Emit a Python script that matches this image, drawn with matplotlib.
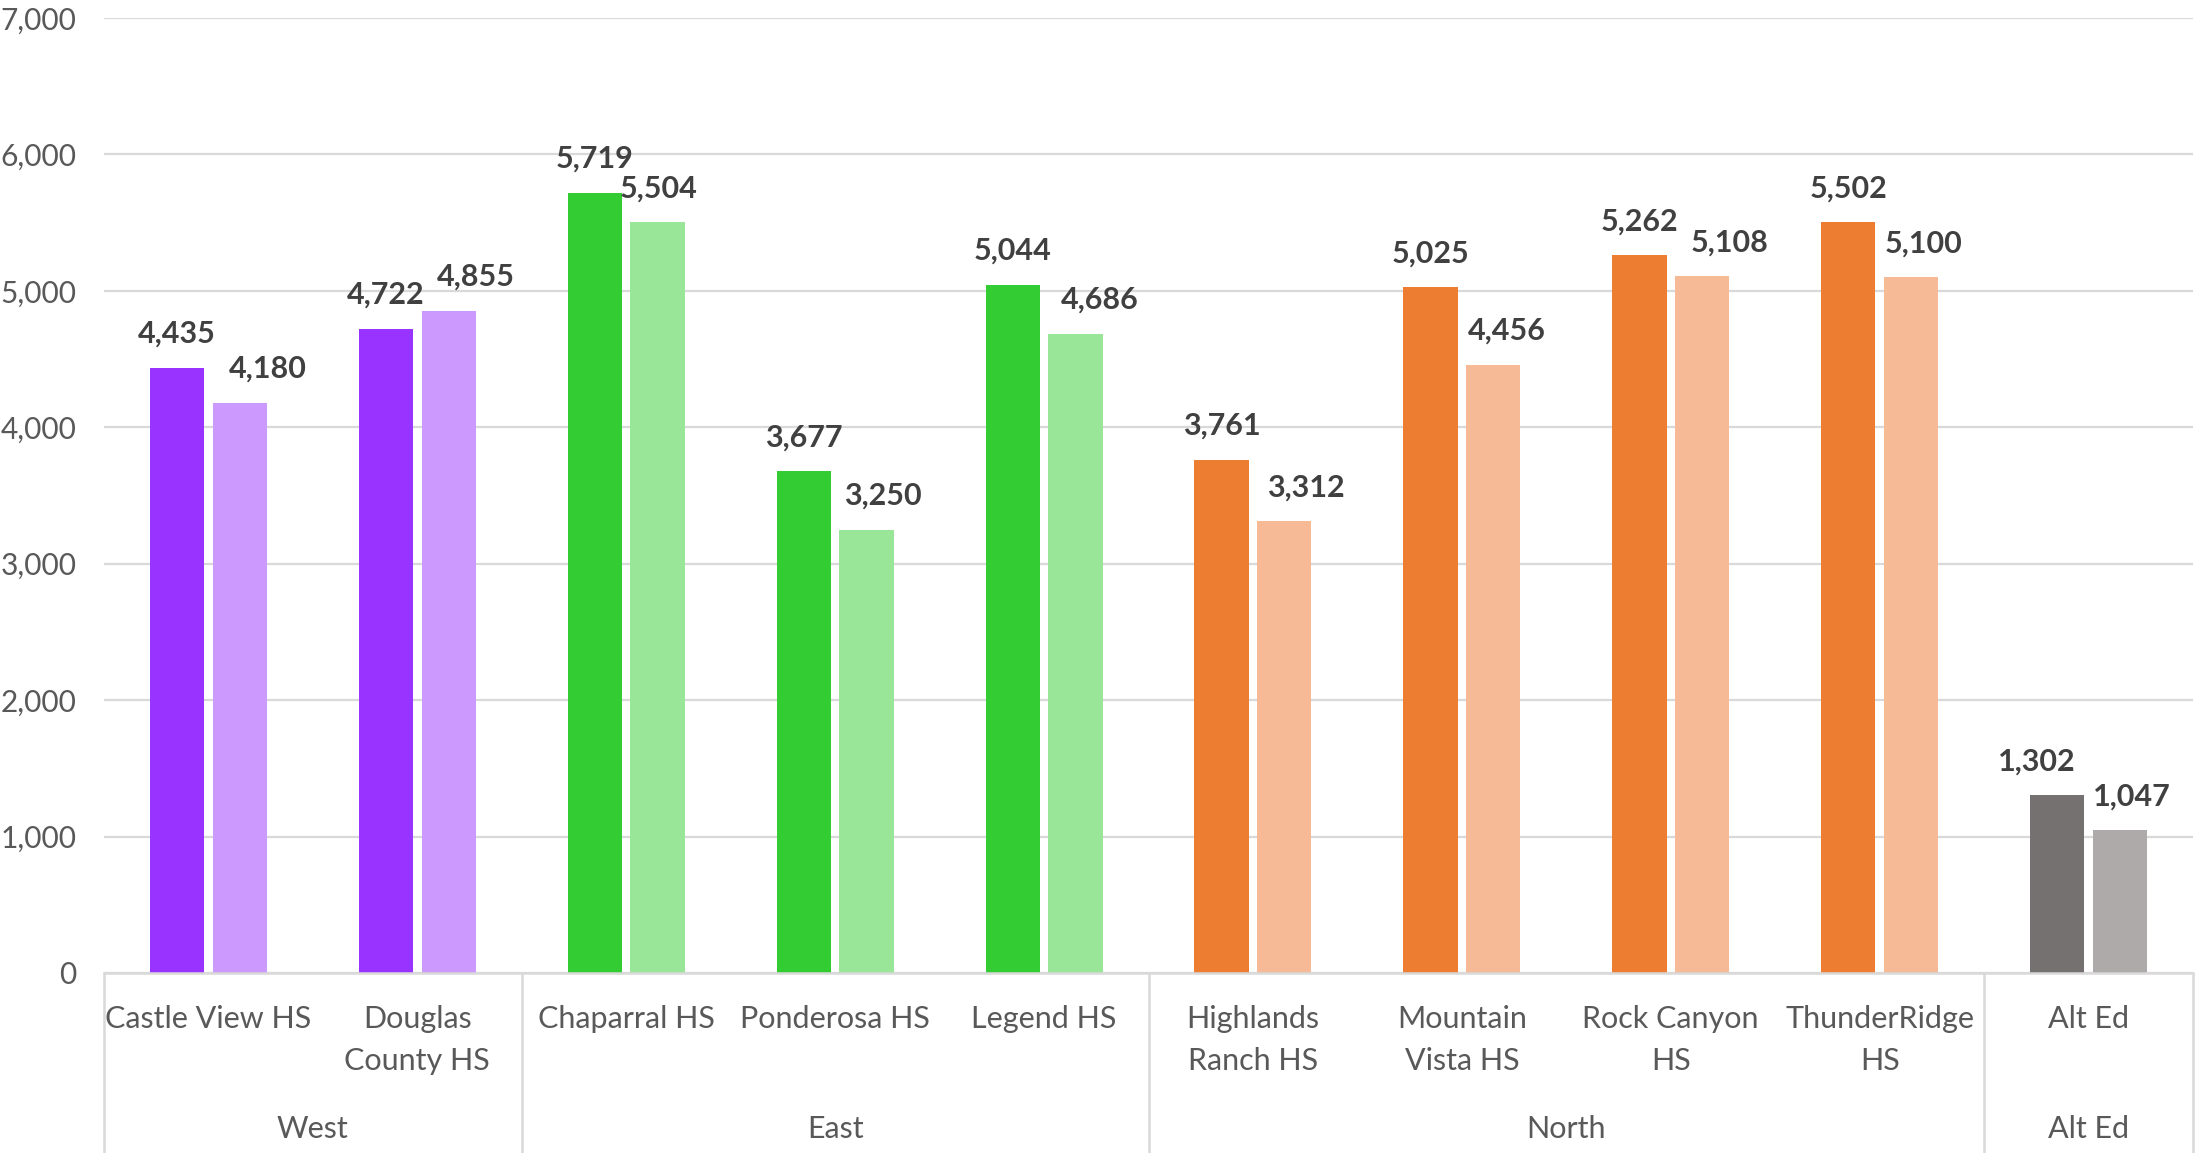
import matplotlib
matplotlib.use("Agg")
import matplotlib.pyplot as plt
import matplotlib.transforms as mtransforms

schools = ["Castle View HS", "Douglas\nCounty HS", "Chaparral HS", "Ponderosa HS", "Legend HS",
           "Highlands\nRanch HS", "Mountain\nVista HS", "Rock Canyon\nHS", "ThunderRidge\nHS", "Alt Ed"]
groups = ["West", "East", "North", "Alt Ed"]
group_sizes = [2, 3, 4, 1]
series_a = [4435, 4722, 5719, 3677, 5044, 3761, 5025, 5262, 5502, 1302]
series_b = [4180, 4855, 5504, 3250, 4686, 3312, 4456, 5108, 5100, 1047]
yticks = [0, 1000, 2000, 3000, 4000, 5000, 6000, 7000]

group_dark = {"West": "#9933FF", "East": "#33CC33", "North": "#ED7D31", "Alt Ed": "#767171"}
group_light = {"West": "#CC99FF", "East": "#99E699", "North": "#F6BB96", "Alt Ed": "#AEAAAA"}

# horizontal nudges (pixels) of the data labels, as placed in the original
label_dx_a = [0, 0, 0, 0, 0, 0, 0, 0, 0, -20]
label_dx_b = [28, 27, 1, 16, 24, 22, 14, 27, 13, 12]

plt.rcParams["font.family"] = ["Lato", "DejaVu Sans"]

W, H = 2202, 1153
fig = plt.figure(figsize=(W / 100, H / 100), dpi=100)
x0, x1 = 104, 2193
y_top, y_base = 18, 973
ax = fig.add_axes([x0 / W, (H - y_base) / H, (x1 - x0) / W, (y_base - y_top) / H])

school_group = []
for g, n in zip(groups, group_sizes):
    school_group += [g] * n

n = len(schools)
xs = list(range(n))
bw = 0.26
off = 0.15
dark_colors = [group_dark[g] for g in school_group]
light_colors = [group_light[g] for g in school_group]
bars_a = ax.bar([x - off for x in xs], series_a, width=bw, color=dark_colors, zorder=2)
bars_b = ax.bar([x + off for x in xs], series_b, width=bw, color=light_colors, zorder=2)

for bars, vals, dxs in ((bars_a, series_a, label_dx_a), (bars_b, series_b, label_dx_b)):
    for b, v, dx in zip(bars, vals, dxs):
        ax.annotate(f"{v:,}", (b.get_x() + b.get_width() / 2, v), xytext=(dx * 0.72, 18),
                    textcoords="offset points", ha="center", va="baseline",
                    fontsize=22, fontweight="bold", color="#404040", zorder=4)

ax.set_xlim(-0.5, n - 0.5)
ax.set_ylim(0, 7000)
ax.set_yticks(yticks)
ax.set_yticklabels([f"{t:,}" for t in yticks], fontsize=21.5, color="#595959")
ax.tick_params(axis="y", length=0, pad=20)
ax.set_xticks([])
ax.yaxis.grid(True, color="#D9D9D9", linewidth=1.6, zorder=0)
ax.set_axisbelow(True)
for s in ("top", "right", "left"):
    ax.spines[s].set_visible(False)
ax.spines["bottom"].set_color("#D9D9D9")
ax.spines["bottom"].set_linewidth(1.8)

trans = mtransforms.blended_transform_factory(ax.transData, ax.transAxes)
axh = y_base - y_top

def ay(ypix):
    return (y_base - ypix) / axh

# category labels
for x, name in zip(xs, schools):
    for k, line in enumerate(name.split("\n")):
        ax.text(x, ay(1019 + 42 * k), line, transform=trans, ha="center", va="center",
                fontsize=22, color="#595959", clip_on=False)

# group labels and separators
start = 0
bounds = [-0.5]
for g, cnt in zip(groups, group_sizes):
    center = start + (cnt - 1) / 2
    ax.text(center, ay(1129), g, transform=trans, ha="center", va="center",
            fontsize=22, color="#595959", clip_on=False)
    start += cnt
    bounds.append(start - 0.5)
for b in bounds:
    ax.plot([b, b], [0, ay(H)], transform=trans, color="#D9D9D9", linewidth=1.8,
            clip_on=False, solid_capstyle="butt")

fig.savefig("out.png", dpi=100)
